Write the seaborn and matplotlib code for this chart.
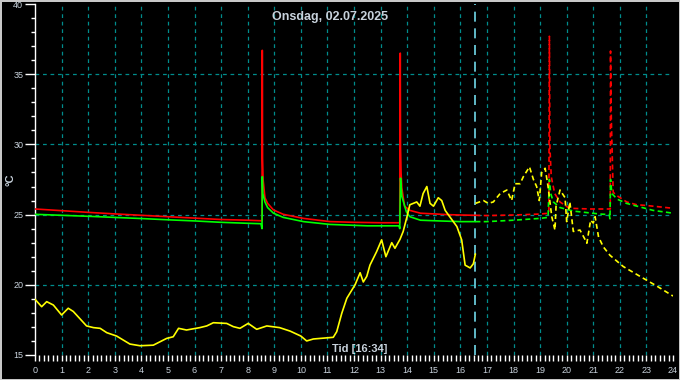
import matplotlib
matplotlib.use("Agg")
import matplotlib.pyplot as plt
import seaborn as sns
import pandas as pd
import numpy as np
from matplotlib.ticker import MultipleLocator

# ---------------- data ----------------
title = "Onsdag, 02.07.2025"
ylabel = "°C"
now_label = "Tid [16:34]"
now_t = 16 + 34 / 60

red_t = [0, 1, 2, 3, 4, 5, 6, 7, 8, 8.54, 8.55, 8.56, 8.58, 8.65, 8.75, 8.97, 9.34, 10.1,
         11.1, 12, 13, 13.72, 13.74, 13.75, 13.77, 13.8, 13.9, 14.1, 14.5, 15, 15.5, 16, now_t]
red_v = [25.4, 25.28, 25.16, 25.05, 24.95, 24.85, 24.75, 24.65, 24.6, 24.56, 36.7, 29.0, 27.5,
         26.2, 25.8, 25.33, 25.02, 24.73, 24.5, 24.45, 24.42, 24.42, 36.5, 29.8, 28.0, 26.9,
         25.6, 25.3, 25.1, 25.05, 25.0, 24.97, 24.95]
red_prev_t = [now_t, 17, 18, 19.0, 19.33, 19.35, 19.37, 19.42, 19.55, 19.75, 20.1, 20.9, 21.6,
              21.64, 21.65, 21.68, 21.75, 21.85, 22.26, 22.64, 23.0, 24.0]
red_prev_v = [24.95, 24.93, 24.97, 25.04, 25.1, 37.7, 29.8, 27.7, 26.5, 25.9, 25.45, 25.4, 25.4,
              25.4, 36.65, 31.8, 26.6, 26.4, 25.9, 25.7, 25.65, 25.45]

green_t = [0, 1, 2, 3, 4, 5, 6, 7, 8, 8.5, 8.54, 8.55, 8.57, 8.65, 8.75, 8.97, 9.34, 10.1, 11.1,
           12.5, 13.7, 13.72, 13.75, 13.8, 13.97, 14.1, 14.5, 15.2, 16, now_t]
green_v = [25.02, 24.95, 24.88, 24.8, 24.72, 24.63, 24.55, 24.45, 24.38, 24.35, 24.0, 27.7, 26.5,
           25.9, 25.5, 25.1, 24.8, 24.5, 24.3, 24.2, 24.2, 24.0, 27.6, 26.3, 25.2, 24.85, 24.6,
           24.55, 24.5, 24.5]
green_prev_t = [now_t, 17, 18, 19.0, 19.3, 19.35, 19.4, 19.5, 19.75, 20.25, 21.25, 21.6, 21.63,
                21.65, 21.7, 21.9, 22.25, 23.25, 24.0]
green_prev_v = [24.5, 24.5, 24.6, 24.73, 24.8, 27.5, 26.5, 25.9, 25.5, 25.25, 25.04, 25.0, 24.7,
                27.5, 26.5, 26.1, 25.8, 25.3, 25.1]

yel_t = [0, 0.25, 0.44, 0.69, 1.0, 1.25, 1.44, 1.94, 2.2, 2.45, 2.7, 3.07, 3.57, 3.95, 4.45,
         4.95, 5.2, 5.4, 5.7, 6.2, 6.46, 6.71, 7.21, 7.46, 7.71, 8.02, 8.34, 8.72, 9.2, 9.6,
         10.0, 10.22, 10.47, 11.22, 11.35, 11.54, 11.73, 12.04, 12.23, 12.35, 12.48, 12.6,
         12.85, 13.04, 13.2, 13.42, 13.54, 13.73, 13.85, 14.0, 14.1, 14.36, 14.48, 14.6, 14.74,
         14.86, 14.99, 15.17, 15.3, 15.43, 15.6, 15.87, 16.05, 16.18, 16.37, 16.49, now_t]
yel_v = [18.97, 18.44, 18.8, 18.56, 17.85, 18.33, 18.1, 17.07, 16.95, 16.9, 16.59, 16.35, 15.78,
         15.66, 15.7, 16.18, 16.3, 16.9, 16.78, 16.95, 17.07, 17.3, 17.25, 17.02, 16.9, 17.25,
         16.83, 17.07, 16.95, 16.7, 16.35, 16.0, 16.14, 16.26, 16.66, 17.97, 19.04, 20.0, 20.86,
         20.2, 20.6, 21.4, 22.36, 23.2, 22.0, 23.0, 22.6, 23.24, 23.8, 24.9, 25.7, 25.9, 25.6,
         26.5, 27.0, 25.8, 25.6, 26.2, 26.0, 25.3, 24.85, 24.15, 23.2, 21.4, 21.2, 21.5, 22.2]
yel_prev_t = [now_t + 0.001, 16.87, 17.05, 17.24, 17.5, 17.75, 17.93, 18.06, 18.25, 18.37, 18.6,
              18.75, 18.87, 18.97, 19.06, 19.19, 19.3, 19.44, 19.56, 19.6, 19.75, 19.94, 20.0,
              20.12, 20.25, 20.5, 20.7, 20.76, 20.9, 21.0, 21.07, 21.2, 21.38, 21.63, 22.13,
              22.76, 23.4, 24.0]
yel_prev_v = [25.8, 26.0, 25.8, 25.9, 26.5, 26.75, 26.0, 27.2, 27.2, 27.7, 28.4, 27.5, 27.0, 26.0,
              28.0, 28.3, 27.0, 24.85, 23.9, 25.6, 26.75, 26.2, 24.5, 25.9, 23.8, 23.9, 23.2,
              22.96, 24.6, 24.4, 24.85, 23.4, 22.7, 22.1, 21.3, 20.6, 19.9, 19.2]

x_ticks = list(range(0, 25))
y_ticks = [15, 20, 25, 30, 35, 40]

# ---------------- style ----------------
sns.set_style("dark")
plt.rcParams["font.family"] = ["Liberation Sans", "DejaVu Sans"]
label_col = "#c8d2dc"
grid_col = "#008c8c"

fig = plt.figure(figsize=(6.8, 3.8), dpi=100, facecolor="black",
                 edgecolor="#c8c8c8", linewidth=2)
ax = fig.add_axes([35 / 680, 1 - 355 / 380, 638 / 680, 351 / 380])
ax.set_facecolor("black")

segments = [
    (red_t, red_v, "#ff0000", "-"),
    (green_t, green_v, "#00ff00", "-"),
    (yel_t, yel_v, "#ffff00", "-"),
    (red_prev_t, red_prev_v, "#ff0000", (0, (3, 2))),
    (green_prev_t, green_prev_v, "#00ff00", (0, (3, 2))),
    (yel_prev_t, yel_prev_v, "#ffff00", (0, (3, 2))),
]
for t, v, c, ls in segments:
    df = pd.DataFrame({"t": t, "v": v})
    sns.lineplot(data=df, x="t", y="v", ax=ax, color=c, linewidth=1.2,
                 linestyle=ls, estimator=None, sort=False, zorder=3)

# current time marker
ax.axvline(now_t, color="#70d8e8", linewidth=1.2, linestyle=(0, (6, 4)), zorder=2)

ax.set_xlim(0, 24)
ax.set_ylim(15, 40)

# grid
for h in x_ticks[1:-1]:
    ax.axvline(h, color=grid_col, linewidth=0.9, linestyle=(0, (3, 3)), zorder=1)
for yv in [20, 25, 30, 35]:
    ax.axhline(yv, color=grid_col, linewidth=0.9, linestyle=(0, (3, 3)), zorder=1)
ax.grid(False)

ax.set_xticks(x_ticks)
ax.set_yticks(y_ticks)
ax.xaxis.set_minor_locator(MultipleLocator(1 / 6))
ax.yaxis.set_minor_locator(MultipleLocator(1))
ax.tick_params(axis="x", which="both", direction="out", length=4, width=1,
               color="white", labelcolor=label_col, labelsize=6.5, pad=4, bottom=True)
ax.tick_params(axis="y", which="major", direction="out", length=7, width=1,
               color="white", labelcolor=label_col, labelsize=6.5, pad=1.5, left=True)
ax.tick_params(axis="y", which="minor", direction="out", length=3, width=1,
               color="white", left=True)

for s in ["top", "right", "bottom"]:
    ax.spines[s].set_visible(False)
ax.spines["left"].set_color("white")
ax.spines["left"].set_linewidth(1)

ax.set_xlabel("")
ax.set_ylabel("")
fig.text(10 / 680, 1 - 180 / 380, ylabel, rotation=90, color=label_col,
         fontsize=8, fontweight="bold", ha="center", va="center")
fig.text(330 / 680, 1 - 17 / 380, title, color=label_col, fontsize=9,
         fontweight="bold", ha="center", va="center")
ax.text(12.2, 15.45, now_label, color=label_col, fontsize=8, fontweight="bold",
        ha="center", va="center", zorder=4)

fig.savefig("out.png", dpi=100, facecolor="black", edgecolor="#c8c8c8")
